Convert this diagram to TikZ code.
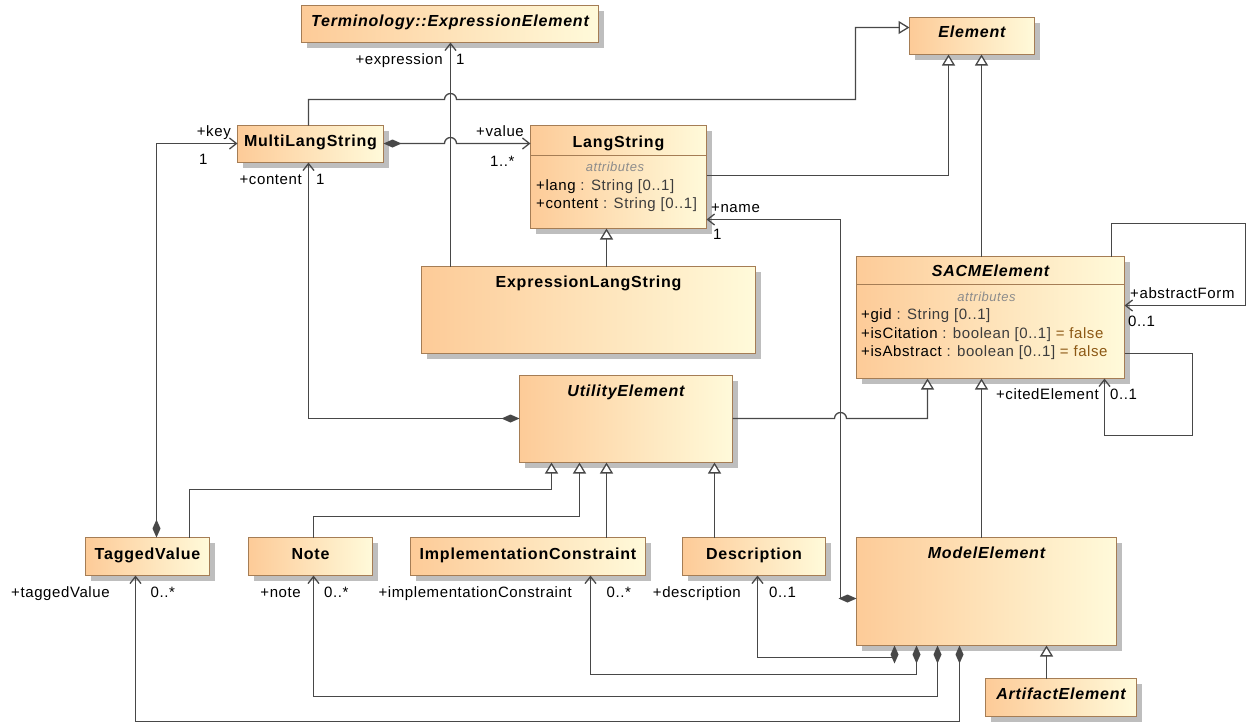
\documentclass[tikz,border=0pt]{standalone}
\usepackage{fontspec}
\setmainfont{Liberation Sans}
\newfontfamily\lblf[LetterSpace=4]{Liberation Sans}
\newfontfamily\ttlf[LetterSpace=5]{Liberation Sans}
\usetikzlibrary{arrows.meta,shadows}
\definecolor{boxL}{RGB}{253,203,152}
\definecolor{boxR}{RGB}{255,250,218}
\definecolor{boxB}{RGB}{165,125,85}
\definecolor{shd}{RGB}{190,190,190}
\definecolor{lnc}{RGB}{72,72,72}
\definecolor{attrgray}{RGB}{140,140,140}
\definecolor{typegray}{RGB}{60,60,60}
\definecolor{dflt}{RGB}{140,88,20}
\tikzset{
  umlbox/.style={draw=boxB, line width=1pt, left color=boxL, right color=boxR,
    inner sep=0pt, outer sep=0pt, anchor=north west,
    general shadow={fill=shd, shadow xshift=5pt, shadow yshift=-5pt}},
  ttl/.style={font=\ttlf\bfseries\fontsize{16}{18}\selectfont, inner sep=0pt, anchor=base, text=black},
  ttli/.style={font=\ttlf\bfseries\itshape\fontsize{16}{18}\selectfont, inner sep=0pt, anchor=base, text=black},
  lbl/.style={font=\lblf\fontsize{15}{17}\selectfont, inner sep=0pt, text=black},
  attrhead/.style={font=\lblf\itshape\fontsize{13}{15}\selectfont, inner sep=0pt, text=attrgray, anchor=base},
  sepline/.style={draw=boxB, line width=1pt},
  conn/.style={draw=lnc, line width=1.3pt},
  nav/.style={conn, -{Straight Barb[length=7pt,width=11pt]}},
  gen/.style={conn, -{Triangle[open,length=11pt,width=13pt,fill=white]}},
  comp/.style={conn, {Diamond[length=18pt,width=8pt]}-{Straight Barb[length=7pt,width=11pt]}},
}
\newcommand\ubox[5]{\node[umlbox, minimum width=#4pt, minimum height=#5pt] (#1) at (#2,#3) {};}
\begin{document}
\begin{tikzpicture}[x=1pt,y=-1pt]
\useasboundingbox (0,0) rectangle (1247,723);
% ---------- boxes ----------
\ubox{TEE}{301.5}{5.5}{297}{37}
\ubox{EL}{909.5}{17.5}{125}{37}
\ubox{MLS}{237.5}{125.5}{146}{37}
\ubox{LS}{530.5}{125.5}{176}{103}
\ubox{ELS}{421.5}{266.5}{334}{87}
\ubox{SE}{856.5}{256.5}{268}{122}
\ubox{UE}{519.5}{375.5}{213}{87}
\ubox{TV}{85.5}{537.5}{124}{38}
\ubox{NT}{248.5}{537.5}{124}{38}
\ubox{IC}{410.5}{537.5}{235}{38}
\ubox{DS}{682.5}{537.5}{143}{38}
\ubox{ME}{856.5}{537.5}{260}{108}
\ubox{AE}{985.5}{678.5}{151}{38}
% ---------- titles ----------
\node[ttli] (TEEt) at ([yshift=-21pt]TEE.north) {Terminology::ExpressionElement};
\node[ttli] (ELt) at ([yshift=-20pt]EL.north) {Element};
\node[ttl] (MLSt) at ([yshift=-21pt]MLS.north) {MultiLangString};
\node[ttl] (LSt) at ([yshift=-21.5pt]LS.north) {LangString};
\node[ttl] (ELSt) at ([yshift=-20.6pt]ELS.north) {ExpressionLangString};
\node[ttli] (SEt) at ([yshift=-20pt]SE.north) {SACMElement};
\node[ttli] (UEt) at ([yshift=-20.7pt]UE.north) {UtilityElement};
\node[ttl] (TVt) at ([yshift=-21.6pt]TV.north) {TaggedValue};
\node[ttl] (NTt) at ([yshift=-21.6pt]NT.north) {Note};
\node[ttl] (ICt) at ([yshift=-21.6pt]IC.north) {ImplementationConstraint};
\node[ttl] (DSt) at ([yshift=-21.6pt]DS.north) {Description};
\node[ttli] (MEt) at ([yshift=-20.6pt]ME.north) {ModelElement};
\node[ttli] (AEt) at ([yshift=-21pt]AE.north) {ArtifactElement};
% ---------- compartments ----------
\draw[sepline] ([yshift=-30pt]LS.north west) -- ([yshift=-30pt]LS.north east);
\node[attrhead] (LSah) at ([xshift=-3.5pt,yshift=-46pt]LS.north) {attributes};
\node[lbl, anchor=base west] (LSa1) at ([xshift=5.5pt,yshift=-64.5pt]LS.north west) {+lang\textcolor{typegray}{\ : String [0..1]}};
\node[lbl, anchor=base west] (LSa2) at ([xshift=5.5pt,yshift=-82.5pt]LS.north west) {+content\textcolor{typegray}{\ : String [0..1]}};
\draw[sepline] ([yshift=-28pt]SE.north west) -- ([yshift=-28pt]SE.north east);
\node[attrhead] (SEah) at ([xshift=-4pt,yshift=-44.5pt]SE.north) {attributes};
\node[lbl, anchor=base west] (SEa1) at ([xshift=4.5pt,yshift=-62.5pt]SE.north west) {+gid\textcolor{typegray}{\ : String [0..1]}};
\node[lbl, anchor=base west] (SEa2) at ([xshift=4.5pt,yshift=-81.5pt]SE.north west) {+isCitation\textcolor{typegray}{\ : boolean [0..1]}\textcolor{dflt}{\ = false}};
\node[lbl, anchor=base west] (SEa3) at ([xshift=4.5pt,yshift=-100pt]SE.north west) {+isAbstract\textcolor{typegray}{\ : boolean [0..1]}\textcolor{dflt}{\ = false}};
% ---------- connectors ----------
% expression
\draw[nav] ([xshift=29pt]ELS.north west) -- ([xshift=29pt]ELS.north west |- TEE.south);
% MultiLangString generalization to Element (with jump)
\draw[gen] ([xshift=71pt]MLS.north west) |- (444.5,99.5) arc[start angle=180,end angle=0,radius=6pt] -- (855.5,99.5) |- ([yshift=-10pt]EL.north west);
% MultiLangString value -> LangString (with jump)
\draw[comp] ([yshift=-18pt]MLS.north east) -- (444.5,143.5) arc[start angle=180,end angle=0,radius=6pt] -- ([yshift=-18pt]LS.north west);
% LangString generalization
\draw[gen] ([yshift=-50pt]LS.north east) -| ([xshift=39pt]EL.south west);
% ExpressionLangString -> LangString
\draw[gen] ([xshift=185pt]ELS.north west) -- ([xshift=185pt]ELS.north west |- LS.south);
% SACMElement -> Element
\draw[gen] ([xshift=125pt]SE.north west) -- ([xshift=125pt]SE.north west |- EL.south);
% abstractForm
\draw[nav] ([xshift=255pt]SE.north west) |- (1245.5,223.5) |- ([yshift=-49pt]SE.north east);
% citedElement
\draw[nav] ([yshift=-97pt]SE.north east) -| (1192.5,435.5) -| ([xshift=248pt]SE.south west);
% UtilityElement -> SACMElement (with jump)
\draw[gen] ([yshift=-43pt]UE.north east) -- (834.5,418.5) arc[start angle=180,end angle=0,radius=6pt] -| ([xshift=71pt]SE.south west);
% ModelElement -> SACMElement
\draw[gen] ([xshift=125pt]ME.north west) -- ([xshift=125pt]ME.north west |- SE.south);
% name
\draw[comp] ([yshift=-61pt]ME.north west) -| (840.5,219.5) -- ([yshift=-94pt]LS.north east);
% content
\draw[comp] ([yshift=-43pt]UE.north west) -| ([xshift=71pt]MLS.south west);
% key
\draw[comp] ([xshift=71pt]TV.north west) |- ([yshift=-18pt]MLS.north west);
% generalizations to UtilityElement
\draw[gen] ([xshift=104pt]TV.north west) -- ++(0,-48) -| ([xshift=32pt]UE.south west);
\draw[gen] ([xshift=65pt]NT.north west) -- ++(0,-21) -| ([xshift=60pt]UE.south west);
\draw[gen] ([xshift=196pt]IC.north west) -- ([xshift=196pt]IC.north west |- UE.south);
\draw[gen] ([xshift=32pt]DS.north west) -- ([xshift=32pt]DS.north west |- UE.south);
% ArtifactElement -> ModelElement
\draw[gen] ([xshift=61pt]AE.north west) -- ([xshift=61pt]AE.north west |- ME.south);
% ModelElement compositions
\draw[comp] ([xshift=38pt]ME.south west) -- ++(0,12) -| ([xshift=75pt]DS.south west);
\draw[comp] ([xshift=60pt]ME.south west) -- ++(0,29) -| ([xshift=180pt]IC.south west);
\draw[comp] ([xshift=81pt]ME.south west) -- ++(0,51) -| ([xshift=65pt]NT.south west);
\draw[comp] ([xshift=103pt]ME.south west) -- ++(0,76) -| ([xshift=50pt]TV.south west);
% ---------- role labels ----------
\node[lbl, anchor=base east] (lExp) at (443,64.5) {+expression};
\node[lbl, anchor=base west] (mExp) at (456,64.5) {1};
\node[lbl, anchor=base east] (lKey) at (231,136) {+key};
\node[lbl, anchor=base west] (mKey) at (199,164) {1};
\node[lbl, anchor=base east] (lVal) at (524,136) {+value};
\node[lbl, anchor=base west] (mVal) at (490,166) {1..*};
\node[lbl, anchor=base east] (lCon) at (302,184.5) {+content};
\node[lbl, anchor=base west] (mCon) at (316,184.5) {1};
\node[lbl, anchor=base west] (lNam) at (711,212) {+name};
\node[lbl, anchor=base west] (mNam) at (713,239) {1};
\node[lbl, anchor=base west] (lAbs) at (1130,298) {+abstractForm};
\node[lbl, anchor=base west] (mAbs) at (1128,326) {0..1};
\node[lbl, anchor=base east] (lCit) at (1099,399) {+citedElement};
\node[lbl, anchor=base west] (mCit) at (1110,399) {0..1};
\node[lbl, anchor=base west] (lTag) at (11,597.5) {+taggedValue};
\node[lbl, anchor=base west] (mTag) at (150.5,597.5) {0..*};
\node[lbl, anchor=base east] (lNote) at (301,597.5) {+note};
\node[lbl, anchor=base west] (mNote) at (324,597.5) {0..*};
\node[lbl, anchor=base east] (lImp) at (572,597.5) {+implementationConstraint};
\node[lbl, anchor=base west] (mImp) at (606.5,597.5) {0..*};
\node[lbl, anchor=base east] (lDes) at (741,597.5) {+description};
\node[lbl, anchor=base west] (mDes) at (769,597.5) {0..1};
\end{tikzpicture}
\end{document}
